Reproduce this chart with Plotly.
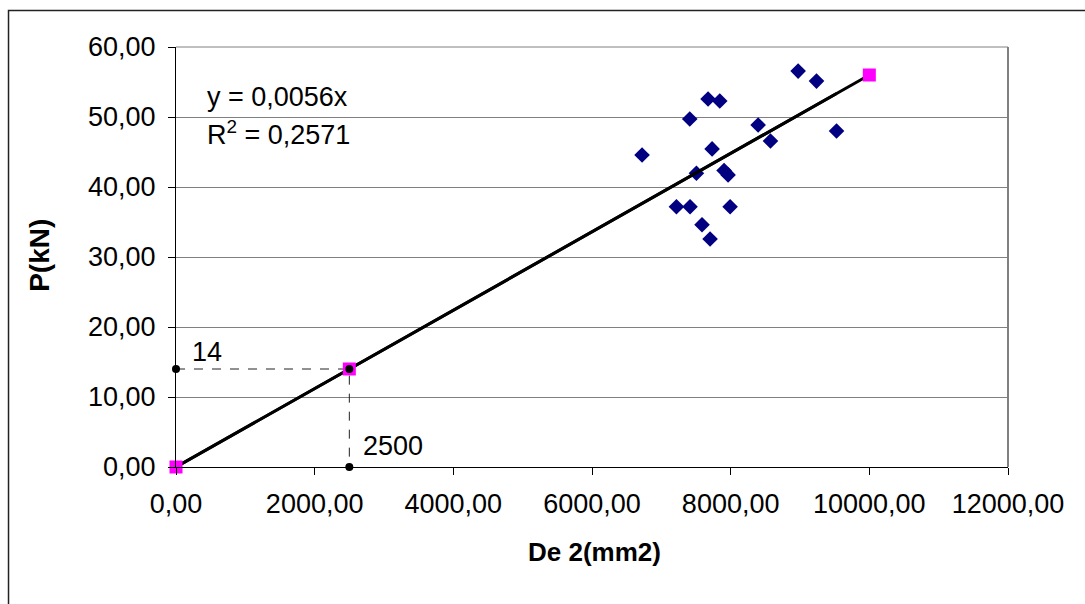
import plotly.graph_objects as go

# ---- data ----
de2_mm2 = [8973, 9238, 7674, 7843, 7410, 8396, 9527, 8574, 6722, 7732,
           7506, 7905, 7963, 7218, 7414, 7992, 7587, 7703]
p_kn = [56.56, 55.13, 52.57, 52.28, 49.71, 48.86, 48.00, 46.58, 44.58, 45.44,
        41.97, 42.35, 41.73, 37.17, 37.17, 37.17, 34.60, 32.57]

design_x = [0, 2500, 10000]
design_y = [0, 14, 56]

trend_slope = 0.0056
r_squared = 0.2571

guide_x = 2500
guide_y = 14

x_ticks = [0, 2000, 4000, 6000, 8000, 10000, 12000]
y_ticks = [0, 10, 20, 30, 40, 50, 60]

FONT = "Liberation Sans, Arial, sans-serif"
FS = 27

fig = go.Figure()

# dashed guides
fig.add_trace(go.Scatter(x=[0, guide_x, guide_x], y=[guide_y, guide_y, 0],
                         mode="lines", line=dict(color="#222222", width=1, dash="dash"),
                         hoverinfo="skip", showlegend=False))

# measured points
fig.add_trace(go.Scatter(x=de2_mm2, y=p_kn, mode="markers",
                         marker=dict(symbol="diamond", size=12, color="#000080",
                                     line=dict(width=0)),
                         showlegend=False))

# trend line y = a x
tx = [0, max(de2_mm2)]
fig.add_trace(go.Scatter(x=tx, y=[trend_slope * v for v in tx], mode="lines",
                         line=dict(color="black", width=3), showlegend=False))

# design series
fig.add_trace(go.Scatter(x=design_x, y=design_y, mode="lines+markers",
                         line=dict(color="black", width=3), cliponaxis=False,
                         marker=dict(symbol="square", size=13, color="#ff00ff",
                                     line=dict(width=0)),
                         showlegend=False))

# black guide points
fig.add_trace(go.Scatter(x=[0, guide_x, guide_x], y=[guide_y, 0, guide_y], mode="markers",
                         cliponaxis=False,
                         marker=dict(symbol="circle", size=8, color="black"),
                         showlegend=False))

fig.update_layout(
    width=1085, height=604,
    margin=dict(l=176, r=77, t=47, b=137),
    paper_bgcolor="white", plot_bgcolor="white",
    separators=",.",
    font=dict(family=FONT, size=FS, color="black"),
    showlegend=False,
)

fig.update_xaxes(range=[0, 12000], tickvals=x_ticks, tickformat=".2f",
                 showgrid=False, zeroline=False,
                 showline=True, linecolor="black", linewidth=1,
                 ticks="outside", ticklen=7, tickcolor="black", tickwidth=1,
                 ticklabelstandoff=6,
                 tickfont=dict(size=FS))
fig.update_yaxes(range=[0, 60], tickvals=y_ticks, tickformat=".2f",
                 showgrid=True, gridcolor="#808080", gridwidth=1, zeroline=False,
                 showline=True, linecolor="black", linewidth=1,
                 ticks="outside", ticklen=7, tickcolor="black", tickwidth=1,
                 ticklabelstandoff=7,
                 tickfont=dict(size=FS))

# plot-area border (right and top) and outer chart frame
fig.add_shape(type="line", xref="paper", yref="paper", x0=1, x1=1, y0=0, y1=1,
              line=dict(color="#808080", width=2), layer="below")
fig.add_shape(type="line", xref="paper", yref="paper", x0=0, x1=1, y0=1, y1=1,
              line=dict(color="#808080", width=1), layer="below")
fig.add_shape(type="path", xref="paper", yref="paper",
              path="M -0.2013 -0.5 L -0.2013 1.0869 L 1.2 1.0869",
              line=dict(color="#222222", width=1.5))

# equation text
fig.add_annotation(xref="paper", yref="paper", x=0.035, y=0.881, xanchor="left", yanchor="middle",
                   text=f"y = {trend_slope:.4f}x".replace(".", ","), showarrow=False,
                   font=dict(size=FS))
fig.add_annotation(xref="paper", yref="paper", x=0.035, y=0.795, xanchor="left", yanchor="middle",
                   text=f"R<sup>2</sup> = {r_squared:.4f}".replace(".", ","), showarrow=False,
                   font=dict(size=FS))

# guide labels
fig.add_annotation(x=0, y=guide_y, xanchor="left", yanchor="middle", xshift=14, yshift=17,
                   text=f"{guide_y:g}", showarrow=False, font=dict(size=FS))
fig.add_annotation(x=guide_x, y=0, xanchor="left", yanchor="middle", xshift=12, yshift=21,
                   text=f"{guide_x:g}", showarrow=False, font=dict(size=FS))

# axis titles
fig.add_annotation(xref="paper", yref="paper", x=-0.1635, y=0.505, textangle=-90,
                   xanchor="center", yanchor="middle", text="<b>P(kN)</b>", showarrow=False,
                   font=dict(size=28))
fig.add_annotation(xref="paper", yref="paper", x=0.5036, y=-0.2024,
                   xanchor="center", yanchor="middle", text="<b>De 2(mm2)</b>", showarrow=False,
                   font=dict(size=26))

fig.write_html("out.html")
